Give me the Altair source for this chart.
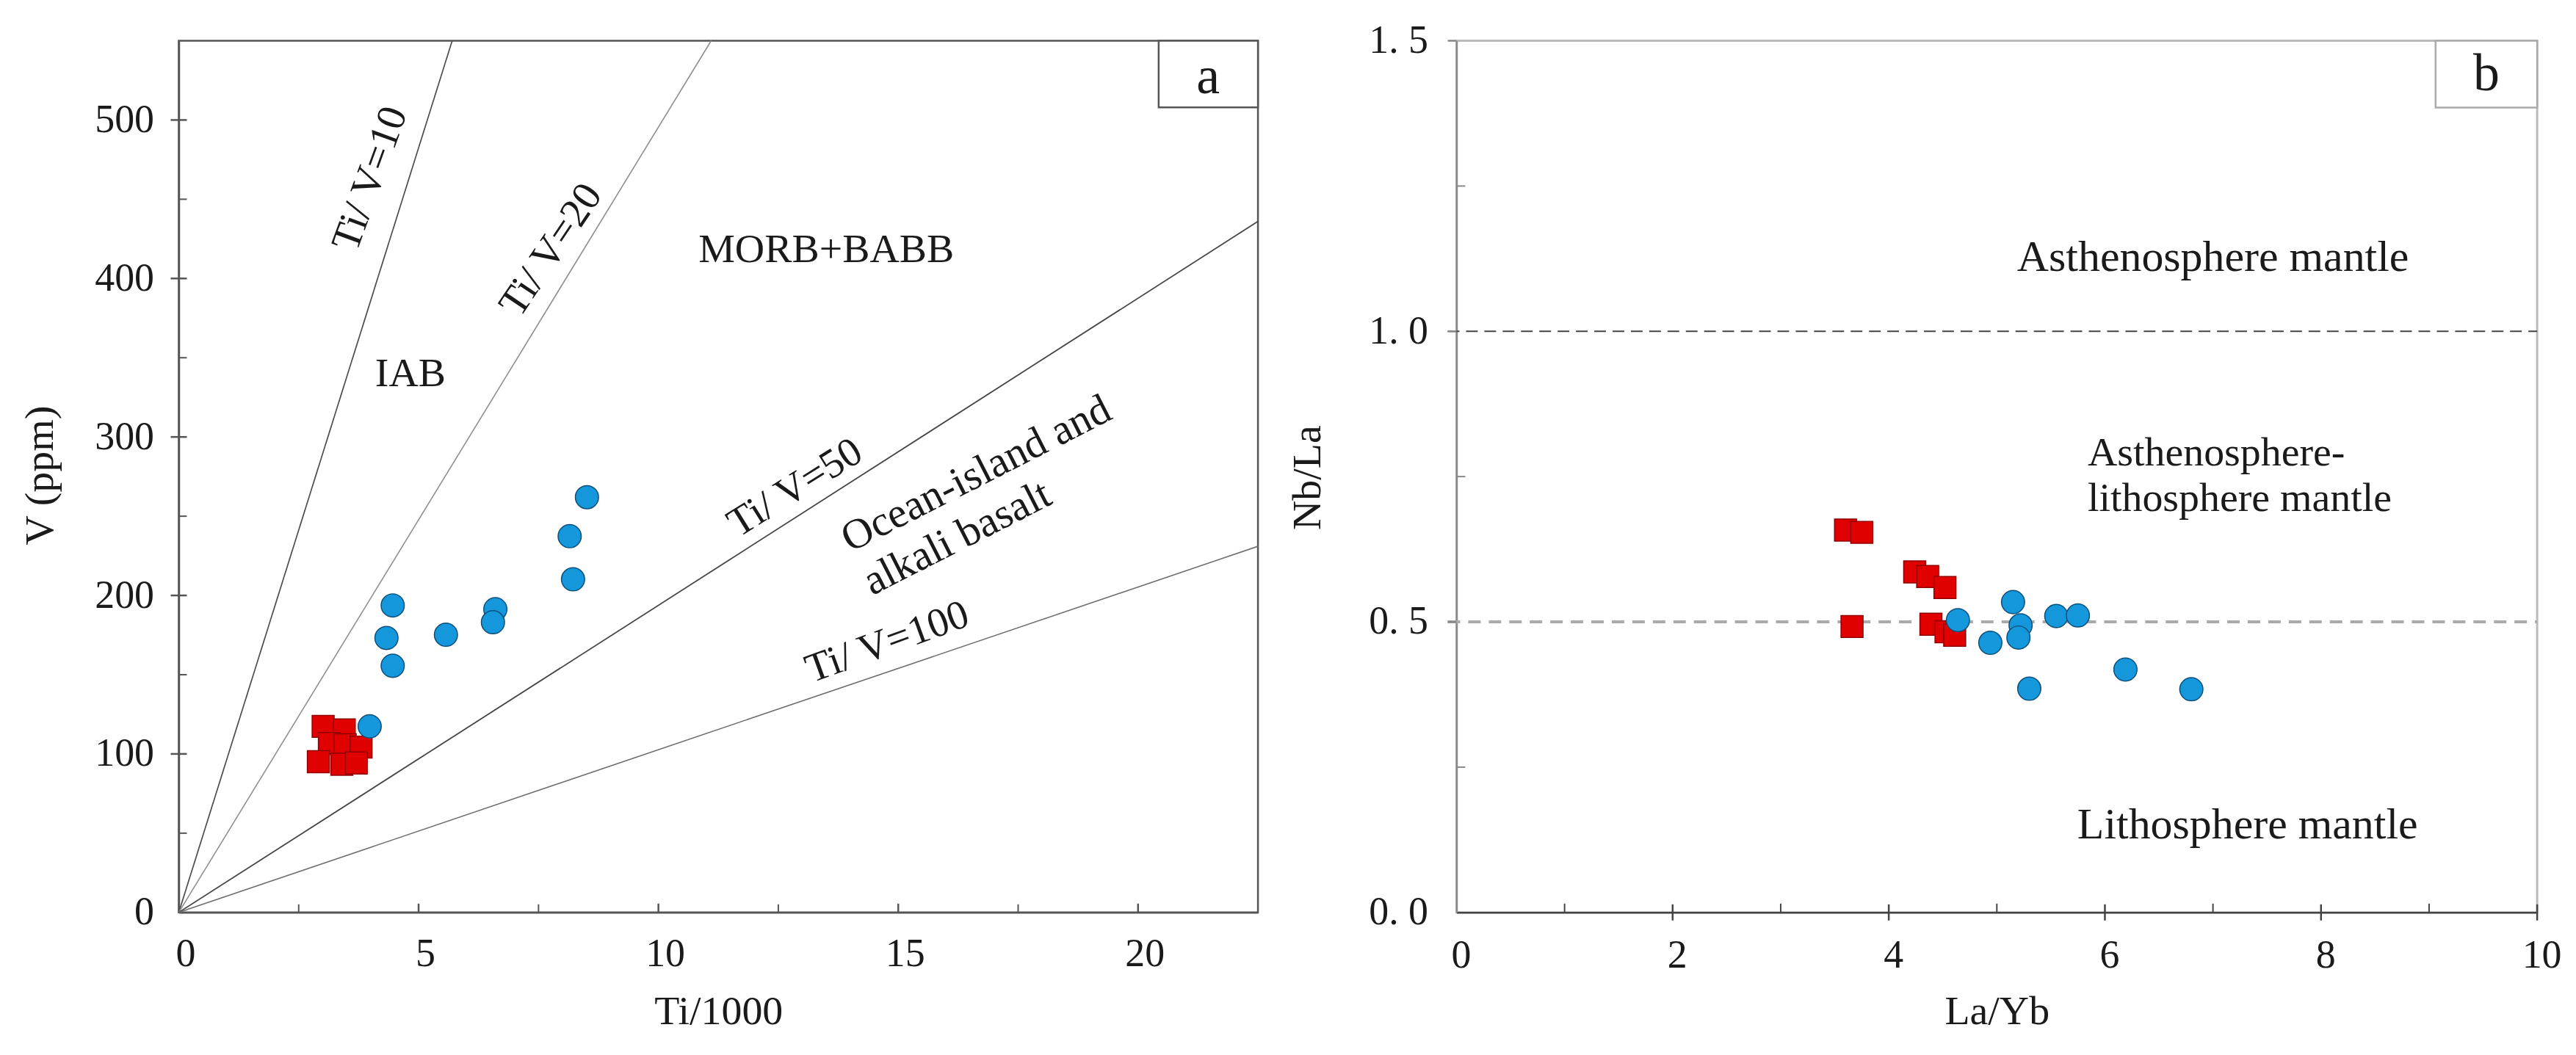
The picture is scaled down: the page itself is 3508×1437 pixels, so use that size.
import altair as alt
import pandas as pd

FONT = "Liberation Serif"
TXT = "#1a1a1a"

# ---------------- Panel a data ----------------
a_circle_ti = [8.51, 8.15, 8.22, 4.46, 4.33, 4.46, 5.57, 6.60, 6.55, 3.98]
a_circle_v = [262.0, 237.4, 210.2, 193.7, 173.2, 155.6, 175.2, 191.3, 183.1, 117.4]
a_square_ti = [3.01, 3.45, 3.14, 3.47, 3.80, 2.91, 3.40, 3.70]
a_square_v = [117.4, 115.1, 106.6, 105.8, 104.3, 95.1, 93.5, 94.3]

ratio_names = ["Ti/V=10", "Ti/V=20", "Ti/V=50", "Ti/V=100"]
ratio_end_ti = [5.7, 11.1, 22.5, 22.5]
ratio_end_v = [550, 550, 436, 231]

a_x_major = [5, 10, 15, 20]
a_x_minor = [2.5, 7.5, 12.5, 17.5]
a_y_major = [100, 200, 300, 400, 500]
a_y_minor = [50, 150, 250, 350, 450]
a_x_labels = [0, 5, 10, 15, 20]
a_y_labels = [0, 100, 200, 300, 400, 500]

a_text = ["Ti/ V=10", "Ti/ V=20", "IAB", "MORB+BABB", "Ti/ V=50",
          "Ocean-island and\nalkali basalt", "Ti/ V=100"]
a_text_ti = [3.99, 7.76, 4.83, 13.50, 12.85, 13.88, 14.77]
a_text_v = [463, 418, 340, 418, 268, 234, 170.5]

a_box_ti = [20.43, 22.5]
a_box_v = [508, 550]
a_tag = ["a"]
a_tag_ti = [21.46]
a_tag_v = [527]

# ---------------- Panel b data ----------------
b_square_x = [3.60, 3.75, 4.24, 4.36, 4.52, 3.66, 4.39, 4.53, 4.61]
b_square_y = [0.658, 0.654, 0.586, 0.578, 0.559, 0.492, 0.496, 0.483, 0.477]
b_circle_x = [4.64, 5.15, 5.22, 5.20, 4.94, 5.55, 5.75, 5.30, 6.19, 6.80]
b_circle_y = [0.503, 0.534, 0.494, 0.473, 0.464, 0.510, 0.511, 0.385, 0.418, 0.384]

b_ref_upper = [1.0]
b_ref_lower = [0.5]

b_x_major = [2, 4, 6, 8, 10]
b_x_minor = [1, 3, 5, 7, 9]
b_y_major = [0.5, 1.0, 1.5]
b_y_minor = [0.25, 0.75, 1.25]
b_x_labels = [0, 2, 4, 6, 8, 10]
b_y_labels = [0, 0.5, 1.0, 1.5]

b_text_center = ["Asthenosphere mantle", "Lithosphere mantle"]
b_text_center_x = [7.0, 7.32]
b_text_center_y = [1.126, 0.15]
b_text_left = ["Asthenosphere-\nlithosphere mantle"]
b_text_left_x = [5.84]
b_text_left_y = [0.79]

b_box_x = [9.06, 10]
b_box_y = [1.385, 1.5]
b_tag = ["b"]
b_tag_x = [9.53]
b_tag_y = [1.443]

# ---------------- styles ----------------
W_A, W_B, H = 1473, 1475, 1190
A_TEXT_ANGLES = [290, 304, 0, 0, 328, 333, 340]
A_TEXT_ALIGN = ["center", "center", "center", "center", "center", "left", "center"]
A_TEXT_SIZE = [56, 56, 56, 56, 56, 58, 56]
RATIO_STYLES = [
    dict(color="#4d4d4d", strokeWidth=1.7),
    dict(color="#8f8f8f", strokeWidth=1.6),
    dict(color="#454545", strokeWidth=1.8),
    dict(color="#707070", strokeWidth=1.6),
]
BLUE, BLUE_EDGE = "#1597DB", "#0b4f7a"
RED, RED_EDGE = "#E10000", "#8f0000"


def common_axis(**kw):
    base = dict(grid=False, ticks=False, tickSize=0,
                labelFont=FONT, labelFontSize=54, labelColor=TXT,
                titleFont=FONT, titleFontSize=56, titleFontWeight="normal",
                titleColor=TXT, domainWidth=2.5, labelFlush=False,
                labelOverlap=False)
    base.update(kw)
    return alt.Axis(**base)


xa_axis = common_axis(values=a_x_labels, format="d", title="Ti/1000",
                      labelPadding=30, labelOffset=9, domainColor="#555555",
                      titleY=135, titleBaseline="middle")
ya_axis = common_axis(values=a_y_labels, format="d", title="V (ppm)",
                      labelPadding=34, domainColor="#555555",
                      titleX=-189, titleY=593, titleAngle=270,
                      titleAlign="center", titleBaseline="middle")
xb_axis = common_axis(values=b_x_labels, format="d", title="La/Yb",
                      labelPadding=32, labelOffset=6, domainColor="#444444",
                      titleY=135, titleBaseline="middle")
yb_axis = common_axis(values=b_y_labels, title="Nb/La",
                      labelExpr="replace(format(datum.value, '.1f'), '.', '. ')",
                      labelPadding=39, domainColor="#888888",
                      titleX=-203, titleY=596, titleAngle=270,
                      titleAlign="center", titleBaseline="middle")


def xa(f="x"):
    return alt.X(f"{f}:Q", scale=alt.Scale(domain=[0, 22.5], nice=False, zero=False), axis=xa_axis)


def ya(f="y"):
    return alt.Y(f"{f}:Q", scale=alt.Scale(domain=[0, 550], nice=False, zero=False), axis=ya_axis)


def xb(f="x"):
    return alt.X(f"{f}:Q", scale=alt.Scale(domain=[0, 10], nice=False, zero=False), axis=xb_axis)


def yb(f="y"):
    return alt.Y(f"{f}:Q", scale=alt.Scale(domain=[0, 1.5], nice=False, zero=False), axis=yb_axis)


# ---------------- Panel a layers ----------------
a_layers = []
for i, name in enumerate(ratio_names):
    df = pd.DataFrame({"x": [0.0], "y": [0.0], "x2": [ratio_end_ti[i]],
                       "y2": [ratio_end_v[i]], "name": [name]})
    a_layers.append(alt.Chart(df).mark_rule(**RATIO_STYLES[i]).encode(
        x=xa(), y=ya(), x2="x2", y2="y2"))

for i, t in enumerate(a_text):
    df = pd.DataFrame({"x": [a_text_ti[i]], "y": [a_text_v[i]], "t": [t]})
    a_layers.append(alt.Chart(df).mark_text(
        font=FONT, fontSize=A_TEXT_SIZE[i], color=TXT, align=A_TEXT_ALIGN[i],
        baseline="middle", angle=A_TEXT_ANGLES[i], lineBreak="\n",
        lineHeight=66).encode(
        x=xa(), y=ya(), text="t:N"))

box_a = pd.DataFrame({"x": [a_box_ti[0]], "x2": [a_box_ti[1]],
                      "y": [a_box_v[0]], "y2": [a_box_v[1]]})
a_layers.append(alt.Chart(box_a).mark_rect(fill="white", stroke="#555555", strokeWidth=2.5).encode(
    x=xa(), x2="x2", y=ya(), y2="y2"))
tag_a = pd.DataFrame({"x": a_tag_ti, "y": a_tag_v, "t": a_tag})
a_layers.append(alt.Chart(tag_a).mark_text(font=FONT, fontSize=72, color=TXT,
                                           align="center", baseline="middle").encode(
    x=xa(), y=ya(), text="t:N"))

sq_a = pd.DataFrame({"x": a_square_ti, "y": a_square_v})
a_layers.append(alt.Chart(sq_a).mark_point(shape="square", filled=True, size=900, opacity=1,
                                           color=RED, stroke=RED_EDGE, strokeWidth=1.5).encode(
    x=xa(), y=ya()))
ci_a = pd.DataFrame({"x": a_circle_ti, "y": a_circle_v})
a_layers.append(alt.Chart(ci_a).mark_point(shape="circle", filled=True, size=1000, opacity=1,
                                           color=BLUE, stroke=BLUE_EDGE, strokeWidth=1.5).encode(
    x=xa(), y=ya()))

# ticks panel a
a_layers.append(alt.Chart(pd.DataFrame({"x": a_x_major})).mark_rule(color="#555555", strokeWidth=2.5).encode(
    x=xa(), y=alt.value(H - 12), y2=alt.value(H)))
a_layers.append(alt.Chart(pd.DataFrame({"x": a_x_minor})).mark_rule(color="#555555", strokeWidth=2).encode(
    x=xa(), y=alt.value(H - 11), y2=alt.value(H)))
a_layers.append(alt.Chart(pd.DataFrame({"y": a_y_major})).mark_rule(color="#555555", strokeWidth=2.5).encode(
    y=ya(), x=alt.value(-11), x2=alt.value(11)))
a_layers.append(alt.Chart(pd.DataFrame({"y": a_y_minor})).mark_rule(color="#555555", strokeWidth=2).encode(
    y=ya(), x=alt.value(0), x2=alt.value(11)))

panel_a = alt.layer(*a_layers).properties(
    width=W_A, height=H,
    view=alt.ViewBackground(stroke="#555555", strokeWidth=2.5, fill="white"))

# ---------------- Panel b layers ----------------
b_layers = []
b_layers.append(alt.Chart(pd.DataFrame({"y": b_ref_upper})).mark_rule(
    color="#444444", strokeWidth=2, strokeDash=[16, 9]).encode(
    y=yb(), x=alt.value(-12), x2=alt.value(W_B)))
b_layers.append(alt.Chart(pd.DataFrame({"y": b_ref_lower})).mark_rule(
    color="#aaaaaa", strokeWidth=4, strokeDash=[17, 11]).encode(
    y=yb(), x=alt.value(-12), x2=alt.value(W_B)))

tc = pd.DataFrame({"x": b_text_center_x, "y": b_text_center_y, "t": b_text_center})
b_layers.append(alt.Chart(tc).mark_text(font=FONT, fontSize=60, color=TXT,
                                        align="center", baseline="middle").encode(
    x=xb(), y=yb(), text="t:N"))
tl = pd.DataFrame({"x": b_text_left_x, "y": b_text_left_y, "t": b_text_left})
b_layers.append(alt.Chart(tl).mark_text(font=FONT, fontSize=56, color=TXT, align="left",
                                        baseline="middle", lineBreak="\n", lineHeight=62).encode(
    x=xb(), y=yb(), text="t:N"))

box_b = pd.DataFrame({"x": [b_box_x[0]], "x2": [b_box_x[1]],
                      "y": [b_box_y[0]], "y2": [b_box_y[1]]})
b_layers.append(alt.Chart(box_b).mark_rect(fill="white", stroke="#aaaaaa", strokeWidth=2.5).encode(
    x=xb(), x2="x2", y=yb(), y2="y2"))
tag_b = pd.DataFrame({"x": b_tag_x, "y": b_tag_y, "t": b_tag})
b_layers.append(alt.Chart(tag_b).mark_text(font=FONT, fontSize=72, color=TXT,
                                           align="center", baseline="middle").encode(
    x=xb(), y=yb(), text="t:N"))

sq_b = pd.DataFrame({"x": b_square_x, "y": b_square_y})
b_layers.append(alt.Chart(sq_b).mark_point(shape="square", filled=True, size=900, opacity=1,
                                           color=RED, stroke=RED_EDGE, strokeWidth=1.5).encode(
    x=xb(), y=yb()))
ci_b = pd.DataFrame({"x": b_circle_x, "y": b_circle_y})
b_layers.append(alt.Chart(ci_b).mark_point(shape="circle", filled=True, size=1000, opacity=1,
                                           color=BLUE, stroke=BLUE_EDGE, strokeWidth=1.5).encode(
    x=xb(), y=yb()))

b_layers.append(alt.Chart(pd.DataFrame({"x": b_x_major})).mark_rule(color="#444444", strokeWidth=2.5).encode(
    x=xb(), y=alt.value(H - 11), y2=alt.value(H + 11)))
b_layers.append(alt.Chart(pd.DataFrame({"x": b_x_minor})).mark_rule(color="#444444", strokeWidth=2).encode(
    x=xb(), y=alt.value(H - 12), y2=alt.value(H)))
b_layers.append(alt.Chart(pd.DataFrame({"y": b_y_major})).mark_rule(color="#888888", strokeWidth=2.5).encode(
    y=yb(), x=alt.value(-12), x2=alt.value(0)))
b_layers.append(alt.Chart(pd.DataFrame({"y": b_y_minor})).mark_rule(color="#888888", strokeWidth=2).encode(
    y=yb(), x=alt.value(0), x2=alt.value(12)))

panel_b = alt.layer(*b_layers).properties(
    width=W_B, height=H,
    view=alt.ViewBackground(stroke="#bbbbbb", strokeWidth=3, fill="white"))

chart = alt.hconcat(panel_a, panel_b, spacing=271, bounds="flush").properties(
    padding={"left": 17, "top": 17, "right": 10, "bottom": 10},
    background="white",
)

chart.save("out.html", embed_options={"renderer": "svg", "actions": False})
